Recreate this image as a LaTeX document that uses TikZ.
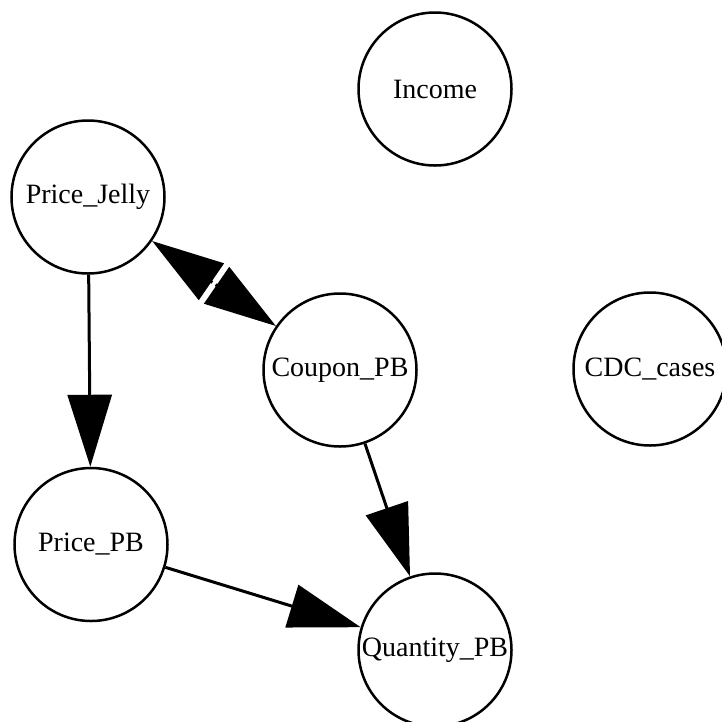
\documentclass[tikz,border=0pt]{standalone}
\usepackage{fontspec}
\setmainfont{Liberation Serif}
\usetikzlibrary{arrows.meta,positioning,calc}

\begin{document}
\begin{tikzpicture}[
    x=1pt, y=-1pt,
    var/.style={circle, draw, line width=2.5pt, minimum size=153pt, inner sep=0pt, font=\fontsize{28}{30}\selectfont},
    arrow/.style={-{Triangle[length=72pt,width=44pt]}, line width=3pt}
]
    \useasboundingbox (0,0) rectangle (722,721);

    % Variables
    \node[var] (income) at (435,89) {Income};
    \node[var] (jelly) at (88,197) {Price\_Jelly};
    \node[var] (coupon) at (340,370) {Coupon\_PB};
    \node[var] (cdc) at (650,369) {CDC\_cases};
    \node[var, below=192pt of jelly, xshift=3pt] (pricepb) {Price\_PB};
    \node[var] (quantity) at (435,650) {Quantity\_PB};

    % Two-way edge, split in the middle
    \coordinate (mid) at ($(jelly)!0.5!(coupon)$);
    \coordinate (gapj) at ($(mid)!2pt!(jelly)$);
    \coordinate (gapc) at ($(mid)!2pt!(coupon)$);

    % Edges
    \draw[arrow] (jelly) -- (pricepb);
    \draw[arrow] (gapj) -- (jelly);
    \draw[arrow] (gapc) -- (coupon);
    \draw[arrow] (coupon) -- (quantity);
    \draw[arrow] (pricepb) -- (quantity);
\end{tikzpicture}
\end{document}
